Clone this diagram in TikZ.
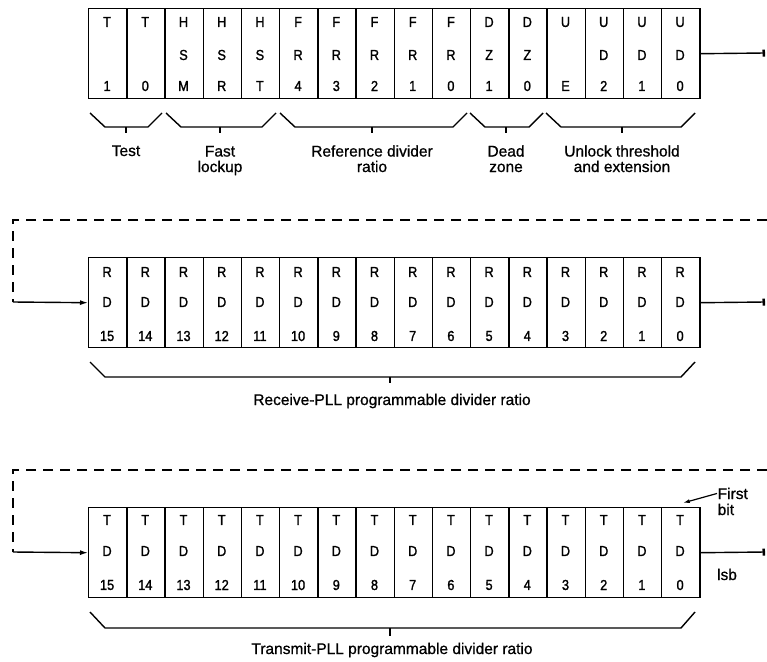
\documentclass[tikz,border=0pt]{standalone}
\usepackage{fontspec}
\setmainfont[FakeBold=0.8]{Liberation Sans}
\newfontfamily\cellfont[FakeStretch=0.88,FakeBold=1.4]{Liberation Sans}
\usetikzlibrary{arrows.meta,calc}
\begin{document}
\begin{tikzpicture}[x=1pt,y=-1pt,line width=1.4pt,
  cell/.style={draw,minimum width=38.2pt,minimum height=90pt,inner sep=0pt,anchor=north west},
  ctext/.style={font=\cellfont\fontsize{14.5}{17}\selectfont,inner sep=0pt},
  lbl/.style={font=\fontsize{15.5}{15.5}\selectfont,align=center,inner sep=0pt,anchor=base},
  brace/.style={line width=1.4pt},
  dashline/.style={dash pattern=on 10pt off 7pt,line width=1.4pt},
  outarrow/.style={-{Bar[width=7pt,line width=2.5pt]}},
  inarrow/.style={-{Latex[length=8pt,width=5pt]}}]
\useasboundingbox (0,0) rectangle (767,661);

% ---------- Row 1 ----------
\foreach \i/\a/\c in {1/T/1,2/T/0,3/H/M,4/H/R,5/H/T,6/F/4,7/F/3,8/F/2,9/F/1,10/F/0,11/D/1,12/D/0,13/U/E,14/U/2,15/U/1,16/U/0}{
  \node[cell] (a\i) at ({88+(\i-1)*38.2},8) {};
  \node[ctext] (a\i-t) at ({88+(\i-0.5)*38.2},22) {\a};
  \node[ctext] (a\i-b) at ({88+(\i-0.5)*38.2},86) {\c};
}
\foreach \i/\b in {3/S,4/S,5/S,6/R,7/R,8/R,9/R,10/R,11/Z,12/Z,14/D,15/D,16/D}{
  \node[ctext] (a\i-m) at ({88+(\i-0.5)*38.2},55) {\b};
}
\coordinate (aout) at (765,53);
\draw[outarrow] (a16.east) -- (aout);

% braces row 1
\foreach \x/\y/\m in {90/162/126,166/276/220,280/467/372,470/543/506,546/695/622}{
  \draw[brace] (\x,113) -- (\x+15,127) -- (\y-14,127) -- (\y,113);
  \draw[brace] (\m,127) -- (\m,133);
}
\node[lbl] (ltest) at (126,156) {Test};
\node[lbl] (lfast) at (220,172) {Fast\\lockup};
\node[lbl] (lref) at (372,172) {Reference divider\\ratio};
\node[lbl] (ldead) at (506,172) {Dead\\zone};
\node[lbl] (lunl) at (622,172) {Unlock threshold\\and extension};

% ---------- Row 2 ----------
\foreach \i [evaluate=\i as \n using {int(16-\i)}] in {1,...,16}{
  \node[cell] (b\i) at ({88+(\i-1)*38.2},257) {};
  \node[ctext] (b\i-t) at ({88+(\i-0.5)*38.2},272) {R};
  \node[ctext] (b\i-m) at ({88+(\i-0.5)*38.2},302) {D};
  \node[ctext] (b\i-b) at ({88+(\i-0.5)*38.2},336) {\n};
}
\coordinate (bin) at (767,220);
\coordinate (bcorner) at (13,220);
\coordinate (bdown) at (13,302);
\draw[dashline] (bin) -- (bcorner) -- (bdown);
\draw[inarrow] (bdown) -- (b1.west);
\coordinate (bout) at (765,302);
\draw[outarrow] (b16.east) -- (bout);
\draw[brace] (90,362) -- (105,377) -- (681,377) -- (695,362);
\draw[brace] (390,377) -- (390,383);
\node[lbl] (lrec) at (392,405) {Receive-PLL programmable divider ratio};

% ---------- Row 3 ----------
\foreach \i [evaluate=\i as \n using {int(16-\i)}] in {1,...,16}{
  \node[cell] (c\i) at ({88+(\i-1)*38.2},507) {};
  \node[ctext] (c\i-t) at ({88+(\i-0.5)*38.2},520) {T};
  \node[ctext] (c\i-m) at ({88+(\i-0.5)*38.2},551) {D};
  \node[ctext] (c\i-b) at ({88+(\i-0.5)*38.2},585) {\n};
}
\coordinate (cin) at (767,470);
\coordinate (ccorner) at (13,470);
\coordinate (cdown) at (13,552);
\draw[dashline] (cin) -- (ccorner) -- (cdown);
\draw[inarrow] (cdown) -- (c1.west);
\coordinate (cout) at (765,552);
\draw[outarrow] (c16.east) -- (cout);
\draw[brace] (90,612) -- (105,628) -- (681,628) -- (695,612);
\draw[brace] (390,628) -- (390,636);
\node[lbl] (ltra) at (392,654) {Transmit-PLL programmable divider ratio};

\node[lbl,anchor=base west] (first) at (717,499) {First};
\node[lbl,anchor=base west] (bit) at (717,515) {bit};
\draw[line width=1.2pt,-{Latex[length=7pt,width=4pt]}] (first.west) -- ($(c16.north)+(2,-4)$);
\node[lbl] (lsb) at (727,580) {lsb};
\end{tikzpicture}
\end{document}
